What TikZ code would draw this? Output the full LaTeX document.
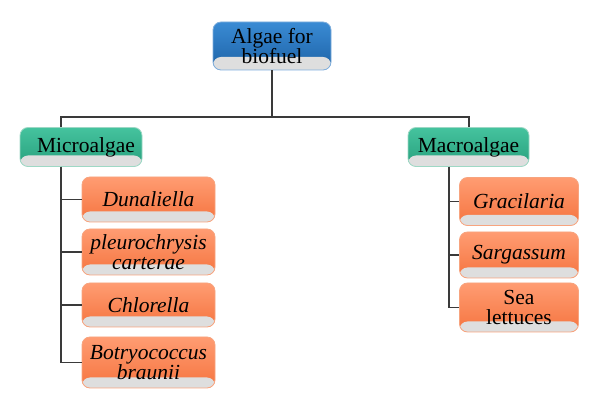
\documentclass[tikz,border=0pt]{standalone}
\usepackage{fontspec}
\setmainfont{Liberation Serif}
\begin{document}
\begin{tikzpicture}[x=1pt,y=-1pt,
  base/.style={rounded corners=8pt, inner sep=0pt, align=center, text=black,
    font=\fontsize{21.5}{19.5}\selectfont, line width=0.8pt,
    path picture={\fill[bandgray] ([yshift=#1]path picture bounding box.south west) rectangle (path picture bounding box.south east);}},
  bluebox/.style={base=13pt, draw=blueedge, top color=bluetop, bottom color=bluebot},
  tealbox/.style={base=11pt, draw=tealedge, top color=tealtop, bottom color=tealbot},
  orbox/.style={base=10.5pt, draw=oredge, top color=ortop, bottom color=orbot, font=\fontsize{21.5}{19.5}\selectfont\itshape},
  conn/.style={draw=linegray, line width=1.2pt}
]
\definecolor{bandgray}{HTML}{DEDEDE}
\definecolor{bluetop}{HTML}{3A8BD4}
\definecolor{bluebot}{HTML}{1D62A6}
\definecolor{blueedge}{HTML}{7FAEDC}
\definecolor{tealtop}{HTML}{45C39E}
\definecolor{tealbot}{HTML}{28A07D}
\definecolor{tealedge}{HTML}{9ED8C5}
\definecolor{ortop}{HTML}{FF9C72}
\definecolor{orbot}{HTML}{F5743F}
\definecolor{oredge}{HTML}{F7A47F}
\definecolor{linegray}{HTML}{3A3A3A}
\useasboundingbox (0,0) rectangle (600,411);

\node[bluebox, minimum width=118pt, minimum height=48pt] (top) at (272,46) {Algae for\\biofuel};
\node[tealbox, minimum width=122pt, minimum height=39pt] (micro) at (81,147) {\hspace*{10pt}Microalgae};
\node[tealbox, minimum width=121pt, minimum height=39pt] (macro) at (468.5,147) {Macroalgae};

\node[orbox, minimum width=133pt, minimum height=45pt] (dun) at (148.5,199.5) {Dunaliella};
\node[orbox, minimum width=133pt, minimum height=46pt] (ple) at (148.5,252) {pleurochrysis\\carterae};
\node[orbox, minimum width=133pt, minimum height=44pt] (chl) at (148.5,305) {Chlorella};
\node[orbox, minimum width=133pt, minimum height=51pt] (bot) at (148.5,362.5) {Botryococcus\\braunii};

\node[orbox, minimum width=119pt, minimum height=48pt] (gra) at (519,201.5) {Gracilaria};
\node[orbox, minimum width=119pt, minimum height=46pt] (sar) at (519,255) {Sargassum};
\node[orbox, minimum width=119pt, minimum height=49pt, font=\fontsize{21.5}{19.5}\selectfont\upshape] (sea) at (519,307.5) {Sea\\lettuces};

\coordinate (jL) at (61,117);
\coordinate (jR) at (469,117);
\coordinate (sR) at (449,117);

\draw[conn] (top.south) -- (top.south |- jL);
\draw[conn] (micro.north -| jL) -- (jL) -- (jR) -- (macro.north -| jR);

\draw[conn] (micro.south -| jL) |- (dun.west);
\draw[conn] (micro.south -| jL) |- (ple.west);
\draw[conn] (micro.south -| jL) |- (chl.west);
\draw[conn] (micro.south -| jL) |- (bot.west);

\draw[conn] (macro.south -| sR) |- (gra.west);
\draw[conn] (macro.south -| sR) |- (sar.west);
\draw[conn] (macro.south -| sR) |- (sea.west);
\end{tikzpicture}
\end{document}
